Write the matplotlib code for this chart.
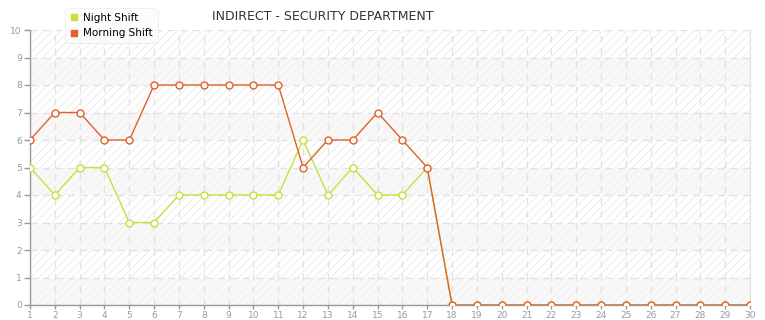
import matplotlib.pyplot as plt
import matplotlib.patheffects as pe

days = list(range(1, 31))
night_shift = [5, 4, 5, 5, 3, 3, 4, 4, 4, 4, 4, 6, 4, 5, 4, 4, 5] + [0] * 13
morning_shift = [6, 7, 7, 6, 6, 8, 8, 8, 8, 8, 8, 5, 6, 6, 7, 6, 5] + [0] * 13
y_ticks = list(range(0, 11))

night_color = '#c8e03c'
morning_color = '#e0622a'

plt.rcParams['hatch.linewidth'] = 0.6

fig = plt.figure(figsize=(7.65, 3.2), dpi=100)
ax = fig.add_axes([30 / 765, 1 - 305 / 320, 720 / 765, 275 / 320])

# alternating background bands
for lo in range(0, 10):
    if lo % 2 == 1:
        ax.axhspan(lo, lo + 1, facecolor='white', edgecolor='#e9e9e9', hatch='////', linewidth=0, zorder=0)
    else:
        ax.axhspan(lo, lo + 1, facecolor='#f8f8f8', edgecolor='#f1f1f1', hatch='////', linewidth=0, zorder=0)

ax.grid(True, color='#e2e2e2', linestyle=(0, (5, 4)), linewidth=1, zorder=1)

ax.plot(days, night_shift, color=night_color, linewidth=1, marker='o', markersize=5,
        markerfacecolor='white', markeredgecolor=night_color, markeredgewidth=1, zorder=3,
        label='Night Shift')
ax.plot(days, morning_shift, color=morning_color, linewidth=1, marker='o', markersize=5,
        markerfacecolor='white', markeredgecolor=morning_color, markeredgewidth=1, zorder=4,
        label='Morning Shift')

ax.set_xlim(1, 30)
ax.set_ylim(0, 10)
ax.set_xticks(days)
ax.set_yticks(y_ticks)
ax.tick_params(axis='both', labelsize=6.5, colors='#999999', length=4, width=1, pad=2)
ax.tick_params(axis='x', length=3, pad=1)

for side in ['left', 'bottom']:
    ax.spines[side].set_color('#999999')
    ax.spines[side].set_linewidth(1)
ax.spines['top'].set_visible(False)
ax.spines['right'].set_color('#e6e6e6')
ax.spines['right'].set_linewidth(1)
ax.set_axisbelow(True)

fig.text(323 / 765, 1 - 17 / 320, 'INDIRECT - SECURITY DEPARTMENT', ha='center', va='center',
         fontsize=9, color='#333333')

handles = [plt.Line2D([], [], color=night_color, marker='s', linestyle='none', markersize=4),
           plt.Line2D([], [], color=morning_color, marker='s', linestyle='none', markersize=4)]
leg = ax.legend(handles, ['Night Shift', 'Morning Shift'], loc='lower left',
                bbox_to_anchor=(65 / 765, 1 - 43 / 320), bbox_transform=fig.transFigure,
                fontsize=7.5, frameon=True, fancybox=True, handletextpad=0.4, labelspacing=0.5,
                borderpad=0.45, handlelength=0.9, borderaxespad=0)
leg.get_frame().set_edgecolor('#eeeeee')
leg.get_frame().set_linewidth(0.8)
leg.get_frame().set_path_effects([pe.withSimplePatchShadow(offset=(1, -1), alpha=0.08)])
leg.set_zorder(10)

fig.savefig('out.png', dpi=100, facecolor='white')
